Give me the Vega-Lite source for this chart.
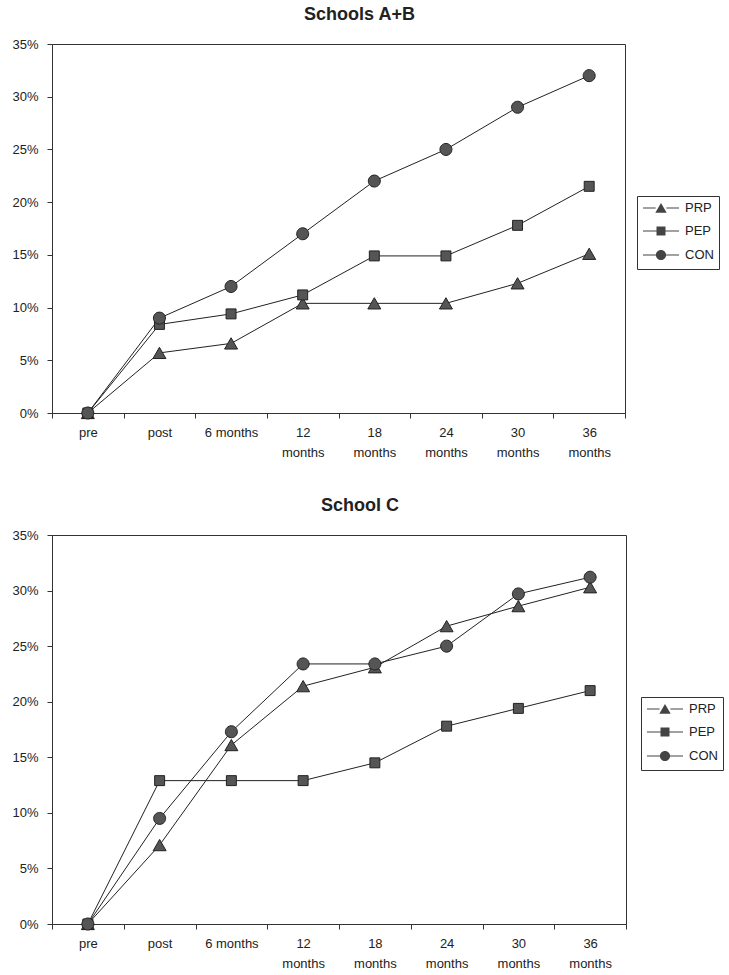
{
  "$schema": "https://vega.github.io/schema/vega-lite/v6.json",
  "padding": {"left": 5, "top": 5, "right": 5, "bottom": 5},
  "data": {"values": [
    {"panel": "AB", "group": "PRP", "time": "pre", "value": 0},
    {"panel": "AB", "group": "PRP", "time": "post", "value": 5.7},
    {"panel": "AB", "group": "PRP", "time": "6 months", "value": 6.6},
    {"panel": "AB", "group": "PRP", "time": "12 months", "value": 10.4},
    {"panel": "AB", "group": "PRP", "time": "18 months", "value": 10.4},
    {"panel": "AB", "group": "PRP", "time": "24 months", "value": 10.4},
    {"panel": "AB", "group": "PRP", "time": "30 months", "value": 12.3},
    {"panel": "AB", "group": "PRP", "time": "36 months", "value": 15.1},
    {"panel": "AB", "group": "PEP", "time": "pre", "value": 0},
    {"panel": "AB", "group": "PEP", "time": "post", "value": 8.4},
    {"panel": "AB", "group": "PEP", "time": "6 months", "value": 9.4},
    {"panel": "AB", "group": "PEP", "time": "12 months", "value": 11.2},
    {"panel": "AB", "group": "PEP", "time": "18 months", "value": 14.9},
    {"panel": "AB", "group": "PEP", "time": "24 months", "value": 14.9},
    {"panel": "AB", "group": "PEP", "time": "30 months", "value": 17.8},
    {"panel": "AB", "group": "PEP", "time": "36 months", "value": 21.5},
    {"panel": "AB", "group": "CON", "time": "pre", "value": 0},
    {"panel": "AB", "group": "CON", "time": "post", "value": 9.0},
    {"panel": "AB", "group": "CON", "time": "6 months", "value": 12.0},
    {"panel": "AB", "group": "CON", "time": "12 months", "value": 17.0},
    {"panel": "AB", "group": "CON", "time": "18 months", "value": 22.0},
    {"panel": "AB", "group": "CON", "time": "24 months", "value": 25.0},
    {"panel": "AB", "group": "CON", "time": "30 months", "value": 29.0},
    {"panel": "AB", "group": "CON", "time": "36 months", "value": 32.0},
    {"panel": "C", "group": "PRP", "time": "pre", "value": 0},
    {"panel": "C", "group": "PRP", "time": "post", "value": 7.1},
    {"panel": "C", "group": "PRP", "time": "6 months", "value": 16.1},
    {"panel": "C", "group": "PRP", "time": "12 months", "value": 21.4},
    {"panel": "C", "group": "PRP", "time": "18 months", "value": 23.1},
    {"panel": "C", "group": "PRP", "time": "24 months", "value": 26.8},
    {"panel": "C", "group": "PRP", "time": "30 months", "value": 28.6},
    {"panel": "C", "group": "PRP", "time": "36 months", "value": 30.3},
    {"panel": "C", "group": "PEP", "time": "pre", "value": 0},
    {"panel": "C", "group": "PEP", "time": "post", "value": 12.9},
    {"panel": "C", "group": "PEP", "time": "6 months", "value": 12.9},
    {"panel": "C", "group": "PEP", "time": "12 months", "value": 12.9},
    {"panel": "C", "group": "PEP", "time": "18 months", "value": 14.5},
    {"panel": "C", "group": "PEP", "time": "24 months", "value": 17.8},
    {"panel": "C", "group": "PEP", "time": "30 months", "value": 19.4},
    {"panel": "C", "group": "PEP", "time": "36 months", "value": 21.0},
    {"panel": "C", "group": "CON", "time": "pre", "value": 0},
    {"panel": "C", "group": "CON", "time": "post", "value": 9.5},
    {"panel": "C", "group": "CON", "time": "6 months", "value": 17.3},
    {"panel": "C", "group": "CON", "time": "12 months", "value": 23.4},
    {"panel": "C", "group": "CON", "time": "18 months", "value": 23.4},
    {"panel": "C", "group": "CON", "time": "24 months", "value": 25.0},
    {"panel": "C", "group": "CON", "time": "30 months", "value": 29.7},
    {"panel": "C", "group": "CON", "time": "36 months", "value": 31.2}
  ]},
  "spacing": 36,
  "resolve": {"scale": {"shape": "independent"}, "legend": {"shape": "independent"}},
  "vconcat": [
    {
      "width": 573,
      "height": 369,
      "title": {"text": "Schools A+B", "dx": 21},
      "transform": [{"filter": "datum.panel == 'AB'"}],
      "encoding": {
        "x": {"field": "time", "type": "nominal", "sort": ["pre", "post", "6 months", "12 months", "18 months", "24 months", "30 months", "36 months"], "scale": {"type": "band", "paddingInner": 0, "paddingOuter": 0}, "axis": {"title": null}},
        "y": {"field": "value", "type": "quantitative", "scale": {"domain": [0, 35], "nice": false}, "axis": {"title": null, "values": [0, 5, 10, 15, 20, 25, 30, 35], "minExtent": 46}}
      },
      "layer": [
        {"mark": {"type": "line", "color": "#222", "strokeWidth": 1}, "encoding": {"detail": {"field": "group", "type": "nominal"}}},
        {"mark": {"type": "point", "filled": true, "fill": "#555", "stroke": "#222", "strokeWidth": 1, "opacity": 1, "size": 144},
         "encoding": {
           "shape": {"field": "group", "type": "nominal", "scale": {"domain": ["PRP", "PEP", "CON"], "range": ["M0,-0.94L1.08,0.94L-1.08,0.94Z", "M-0.83,-0.83H0.83V0.83H-0.83Z", "M1,0A1,1,0,1,1,-1,0A1,1,0,1,1,1,0Z"]}, "legend": null}
         }},
        {"transform": [{"filter": "false"}],
         "mark": {"type": "point", "filled": true, "fill": "#444", "opacity": 1, "size": 144},
         "encoding": {
           "shape": {"field": "group", "type": "nominal", "scale": {"domain": ["PRP", "PEP", "CON"], "range": ["M-3,-0.09H-0.9V0.09H-3ZM0.9,-0.09H3V0.09H0.9ZM0,-0.85L0.95,0.8L-0.95,0.8Z", "M-3,-0.09H-0.7V0.09H-3ZM0.7,-0.09H3V0.09H0.7ZM-0.75,-0.75H0.75V0.75H-0.75Z", "M-3,-0.09H-0.8V0.09H-3ZM0.8,-0.09H3V0.09H0.8ZM0.85,0A0.85,0.85,0,1,1,-0.85,0A0.85,0.85,0,1,1,0.85,0Z"]},
             "legend": {"orient": "none", "legendX": 585, "legendY": 152, "title": null, "symbolOffset": 12, "labelOffset": 17}}
         }}
      ],
      "resolve": {"scale": {"shape": "independent"}, "legend": {"shape": "independent"}}
    },
    {
      "width": 574,
      "height": 389,
      "title": {"text": "School C", "dx": 21},
      "transform": [{"filter": "datum.panel == 'C'"}],
      "encoding": {
        "x": {"field": "time", "type": "nominal", "sort": ["pre", "post", "6 months", "12 months", "18 months", "24 months", "30 months", "36 months"], "scale": {"type": "band", "paddingInner": 0, "paddingOuter": 0}, "axis": {"title": null}},
        "y": {"field": "value", "type": "quantitative", "scale": {"domain": [0, 35], "nice": false}, "axis": {"title": null, "values": [0, 5, 10, 15, 20, 25, 30, 35], "minExtent": 46}}
      },
      "layer": [
        {"mark": {"type": "line", "color": "#222", "strokeWidth": 1}, "encoding": {"detail": {"field": "group", "type": "nominal"}}},
        {"mark": {"type": "point", "filled": true, "fill": "#555", "stroke": "#222", "strokeWidth": 1, "opacity": 1, "size": 144},
         "encoding": {
           "shape": {"field": "group", "type": "nominal", "scale": {"domain": ["PRP", "PEP", "CON"], "range": ["M0,-0.94L1.08,0.94L-1.08,0.94Z", "M-0.83,-0.83H0.83V0.83H-0.83Z", "M1,0A1,1,0,1,1,-1,0A1,1,0,1,1,1,0Z"]}, "legend": null}
         }},
        {"transform": [{"filter": "false"}],
         "mark": {"type": "point", "filled": true, "fill": "#444", "opacity": 1, "size": 144},
         "encoding": {
           "shape": {"field": "group", "type": "nominal", "scale": {"domain": ["PRP", "PEP", "CON"], "range": ["M-3,-0.09H-0.9V0.09H-3ZM0.9,-0.09H3V0.09H0.9ZM0,-0.85L0.95,0.8L-0.95,0.8Z", "M-3,-0.09H-0.7V0.09H-3ZM0.7,-0.09H3V0.09H0.7ZM-0.75,-0.75H0.75V0.75H-0.75Z", "M-3,-0.09H-0.8V0.09H-3ZM0.8,-0.09H3V0.09H0.8ZM0.85,0A0.85,0.85,0,1,1,-0.85,0A0.85,0.85,0,1,1,0.85,0Z"]},
             "legend": {"orient": "none", "legendX": 589, "legendY": 162, "title": null, "symbolOffset": 12, "labelOffset": 17}}
         }}
      ],
      "resolve": {"scale": {"shape": "independent"}, "legend": {"shape": "independent"}}
    }
  ],
  "config": {
    "font": "Liberation Sans",
    "view": {"stroke": "#333", "strokeWidth": 1},
    "title": {"fontSize": 18, "fontWeight": "bold", "color": "#222", "offset": 14, "anchor": "middle"},
    "axis": {"grid": false, "domainColor": "#333", "tickColor": "#333", "tickSize": 5, "labelFontSize": 13, "labelColor": "#222", "labelFont": "Liberation Sans"},
    "axisX": {"labelAngle": 0, "tickBand": "extent", "labelPadding": 8, "labelLineHeight": 20, "labelExpr": "datum.label == '6 months' || datum.label == 'pre' || datum.label == 'post' ? datum.label : split(datum.label, ' ')"},
    "axisY": {"labelPadding": 9, "labelExpr": "datum.value + '%'"},
    "legend": {"strokeColor": "#333", "strokeWidth": 1, "padding": 5, "rowPadding": 7, "labelFontSize": 13, "labelColor": "#222", "symbolSize": 144}
  }
}
